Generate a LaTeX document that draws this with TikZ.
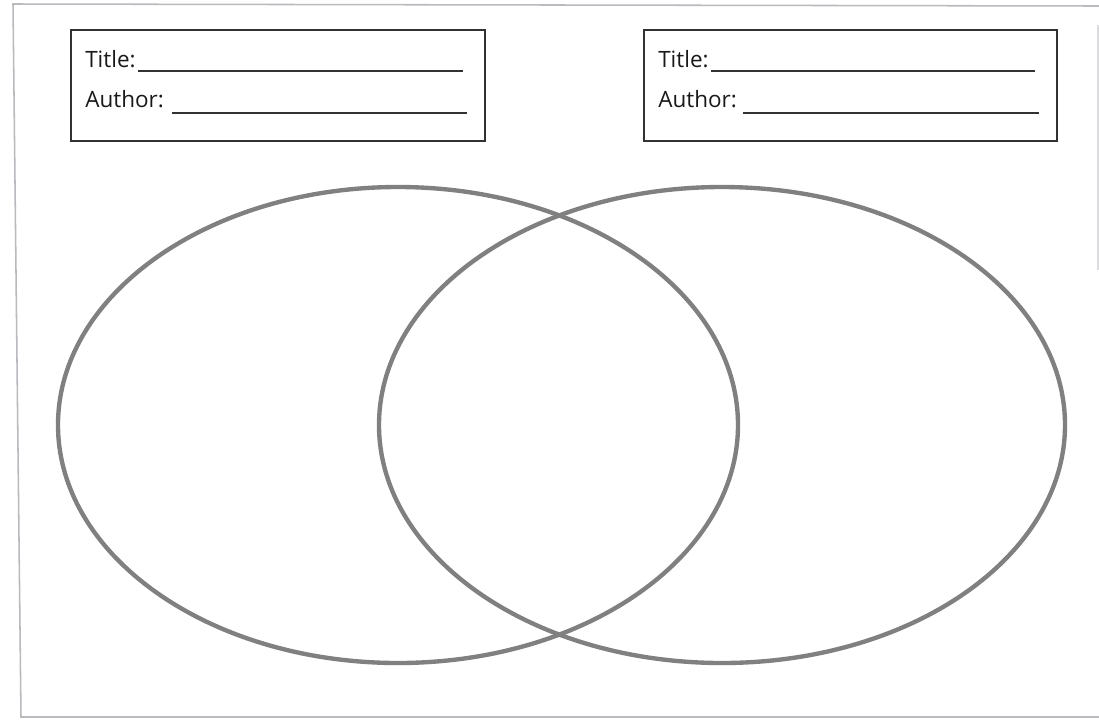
\documentclass[tikz,border=0pt]{standalone}
\usepackage{fontspec}
\setmainfont{Open Sans}
\usepackage{tikz}
\usetikzlibrary{positioning}
\definecolor{pagegray}{RGB}{185, 185, 190}
\definecolor{boxgray}{RGB}{50, 50, 50}
\definecolor{venngray}{RGB}{128, 128, 128}
\tikzset{
  cardbox/.style={draw=boxgray, line width=1.5pt},
  cardline/.style={draw=boxgray, line width=1.3pt},
  cardtext/.style={anchor=base west, inner sep=0pt, text=black!90, font=\fontsize{16}{19}\selectfont},
  vennline/.style={draw=venngray, line width=3.1pt}
}

\begin{document}
\begin{tikzpicture}[x=0.025cm, y=-0.025cm]
\useasboundingbox (0,0) rectangle (1099,719);
% Page edge
\draw[pagegray, line width=1.1pt] (1099,6) -- (13,4) -- (21,717) -- (1099,717);
\draw[pagegray!50, line width=1pt] (1098,25) -- (1098,270);

% Card 1
\draw[cardbox] (71,30) rectangle (485,141);
\node[cardtext] (titleA) at (85,67) {Title:};
\node[cardtext] (authorA) at (85,107) {Author:};
\draw[cardline] (138,71) -- (463,71);
\draw[cardline] (172,113) -- (467,113);

% Card 2
\draw[cardbox] (644,30) rectangle (1057,141);
\node[cardtext] (titleB) at (658,67) {Title:};
\node[cardtext] (authorB) at (658,107) {Author:};
\draw[cardline] (711,71) -- (1035,71);
\draw[cardline] (743,113) -- (1039,113);

% Venn circles
\draw[vennline] (398,425) ellipse [x radius=340, y radius=238];
\draw[vennline] (722,425) ellipse [x radius=343, y radius=238];
\end{tikzpicture}
\end{document}
